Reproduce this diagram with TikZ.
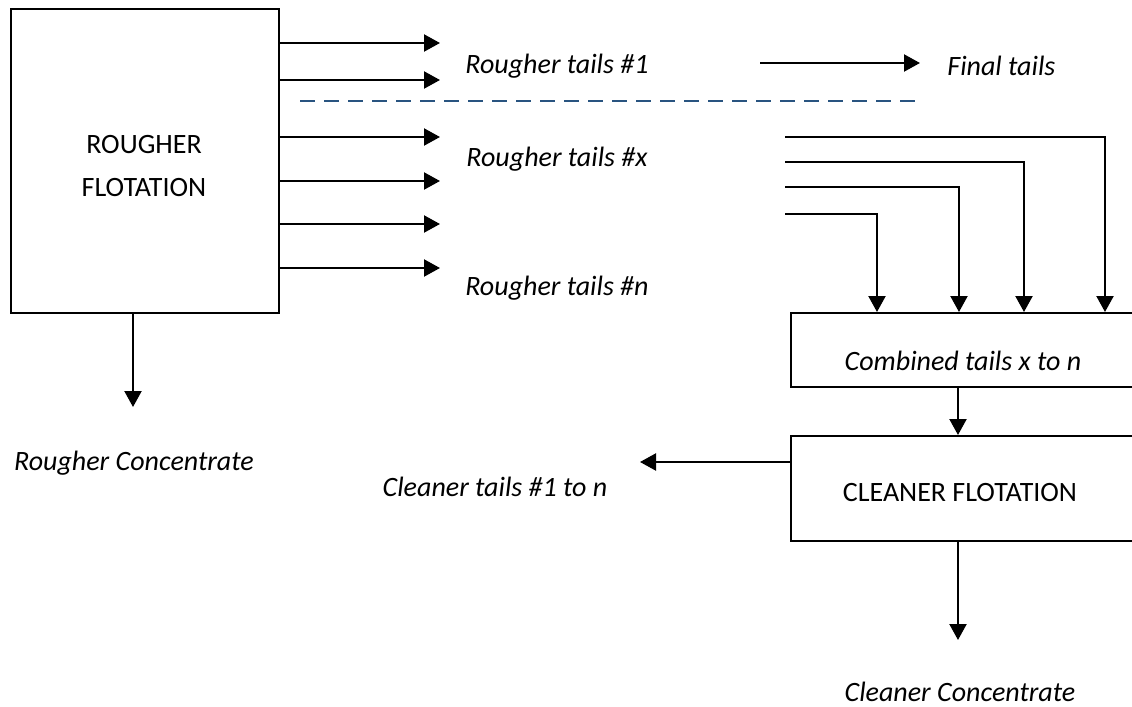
\documentclass[tikz,border=0pt]{standalone}
\usepackage{fontspec}
\setmainfont{Carlito}
\usetikzlibrary{arrows.meta,calc}
\definecolor{dashblue}{RGB}{41,84,128}
\tikzset{
    flow/.style={line width=1.1pt,-{Triangle[length=8pt,width=8.5pt]}},
    unit/.style={draw,line width=1.1pt,inner sep=0pt,anchor=north west},
    tag/.style={font=\fontsize{14}{17}\selectfont\itshape,inner sep=0pt},
    caps/.style={font=\fontsize{14}{21.5}\selectfont,align=center,inner sep=0pt},
  }

\begin{document}
\begin{tikzpicture}[x=0.5pt,y=-0.5pt]
                  %boxes
                  \useasboundingbox (0,0) rectangle (1132,707);
                  \node[unit,minimum width=134pt,minimum height=152pt] (rough) at (10,8) {};
                  \node[caps] (roughtxt) at (144,166) {ROUGHER\\FLOTATION};
                  \node[unit,minimum width=175pt,minimum height=37pt] (comb) at (790,312) {};
                  \node[tag] (combtxt) at (963,361) {Combined tails x to n};
                  \node[unit,minimum width=175pt,minimum height=52.5pt] (clean) at (790,435) {};
                  \node[caps] (cleantxt) at (960,493) {CLEANER FLOTATION};
                  %rougher tails
                  \foreach \i/\y in {1/43,2/80,3/137,4/181,5/224,6/268}{
                    \coordinate (t\i) at (440,\y);
                    \draw[flow] (rough.east |- t\i) -- (t\i);
                  }
                  \node[tag] (rt1) at (557,66) {Rougher tails \#1};
                  \node[tag] (rtx) at (557,159) {Rougher tails \#x};
                  \node[tag] (rtn) at (557,288) {Rougher tails \#n};
                  \draw[dashblue,line width=1.3pt,dash pattern=on 7.5pt off 4.5pt] (300,101) -- (920,101);
                  \coordinate (f0) at (760,63);
                  \coordinate (f1) at (920,63);
                  \node[tag,anchor=west] (final) at (947,66) {Final tails};
                  \draw[flow] (f0) -- (f1);
                  %combined feed
                  \foreach \i/\y/\x in {1/137/1105,2/162/1024,3/187/959,4/214/877}{
                    \coordinate (s\i) at (785,\y);
                    \draw[flow] (s\i) -| (comb.north -| \x,0);
                  }
                  \draw[flow] (comb.south -| 958,0) -- (clean.north -| 958,0);
                  %cleaner products
                  \coordinate (ct) at (640,462);
                  \draw[flow] (clean.west |- ct) -- (ct);
                  \node[tag] (cttxt) at (495,487) {Cleaner tails \#1 to n};
                  \coordinate (cc) at (958,640);
                  \draw[flow] (clean.south -| cc) -- (cc);
                  \node[tag] (cctxt) at (960,692) {Cleaner Concentrate};
                  %rougher concentrate
                  \coordinate (rc) at (133,407);
                  \draw[flow] (rough.south -| rc) -- (rc);
                  \node[tag] (rctxt) at (134,463) {Rougher Concentrate};
\end{tikzpicture}
\end{document}
